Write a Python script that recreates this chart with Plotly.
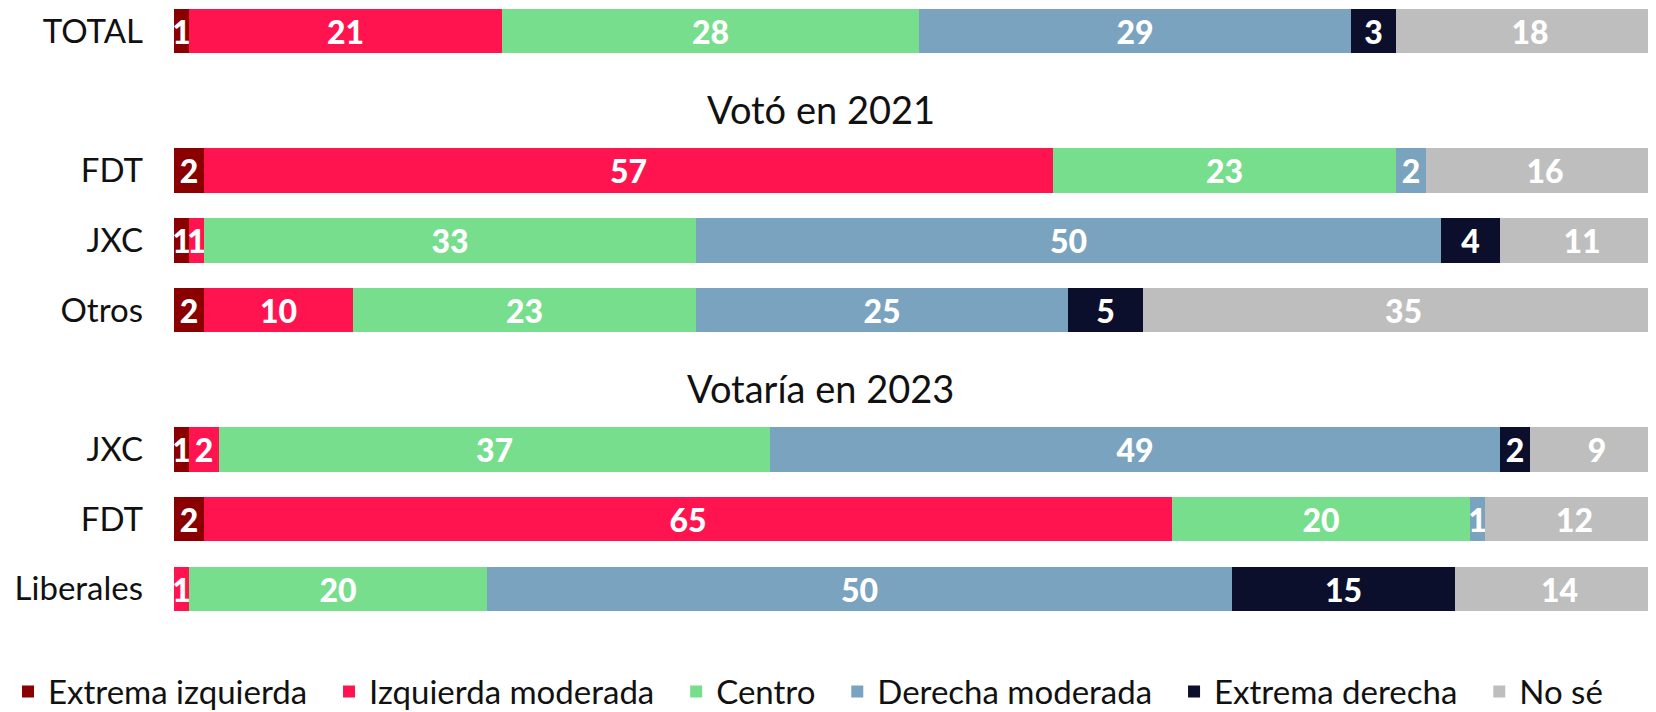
import plotly.graph_objects as go

# ---- data ----
sections = ["", "Votó en 2021", "Votaría en 2023"]
section_rows = [["TOTAL"], ["FDT", "JXC", "Otros"], ["JXC", "FDT", "Liberales"]]

series_names = ["Extrema izquierda", "Izquierda moderada", "Centro",
                "Derecha moderada", "Extrema derecha", "No sé"]
extrema_izquierda = [1, 2, 1, 2, 1, 2, 0]
izquierda_moderada = [21, 57, 1, 10, 2, 65, 1]
centro = [28, 23, 33, 23, 37, 20, 20]
derecha_moderada = [29, 2, 50, 25, 49, 1, 50]
extrema_derecha = [3, 0, 4, 5, 2, 0, 15]
no_se = [18, 16, 11, 35, 9, 12, 14]

colors = ["#8a0000", "#ff1450", "#77de8d", "#7aa3c0", "#0b0f2b", "#bebebe"]

# ---- row positions (header rows take a slot) ----
row_labels, row_pos, header_pos, header_text = [], [], [], []
p = 0
for title, labels in zip(sections, section_rows):
    if title:
        header_pos.append(p)
        header_text.append(title)
        p += 1
    for lab in labels:
        row_labels.append(lab)
        row_pos.append(p)
        p += 1

all_series = [extrema_izquierda, izquierda_moderada, centro,
              derecha_moderada, extrema_derecha, no_se]

NB = "\u00a0"
FONT = "Lato"
fig = go.Figure()
for name, vals, col in zip(series_names, all_series, colors):
    fig.add_trace(go.Bar(
        y=row_pos, x=vals, orientation="h", name=name + NB * 2,
        marker=dict(color=col, line=dict(width=0)),
        width=0.637,
        text=[str(v) if v else "" for v in vals],
        textposition="inside", insidetextanchor="middle",
        textangle=0, constraintext="none",
        textfont=dict(family=FONT, size=32, color="white", weight=900),
        hoverinfo="skip",
    ))

for hp, ht in zip(header_pos, header_text):
    fig.add_annotation(x=0.434, xref="paper", y=hp + 0.12, yref="y",
                       text=ht, showarrow=False, xanchor="center", yanchor="middle",
                       font=dict(family=FONT, size=38, color="#111111"))

fig.update_layout(
    width=1656, height=712,
    barmode="stack",
    margin=dict(l=166, r=0, t=0, b=95, autoexpand=False),
    plot_bgcolor="white", paper_bgcolor="white",
    bargap=0,
    xaxis=dict(range=[0, 100], visible=False, fixedrange=True),
    yaxis=dict(range=[8.519, -0.333], tickvals=row_pos, ticktext=row_labels,
               showgrid=False, zeroline=False, showline=False, automargin=False,
               ticks="", ticklabelstandoff=30,
               tickfont=dict(family=FONT, size=33, color="#111111")),
    showlegend=True,
    legend=dict(orientation="h", x=-0.1114, xref="paper", xanchor="left",
                y=-0.108, yanchor="middle", traceorder="normal",
                font=dict(family=FONT, size=33, color="#111111"),
                bgcolor="rgba(0,0,0,0)"),
)

fig.write_html("out.html")
